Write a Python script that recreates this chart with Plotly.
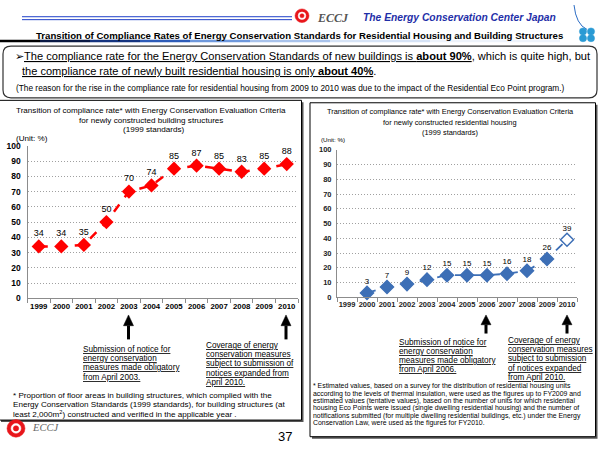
import plotly.graph_objects as go

W, H = 600, 450

# ---------------- data ----------------
years = ['1999', '2000', '2001', '2002', '2003', '2004', '2005', '2006', '2007', '2008', '2009', '2010']
building_years = years
building_rate = [34, 34, 35, 50, 70, 74, 85, 87, 85, 83, 85, 88]
housing_years = years[1:]
housing_rate = [3, 7, 9, 12, 15, 15, 15, 16, 18, 26, 39]
y_ticks = [0, 10, 20, 30, 40, 50, 60, 70, 80, 90, 100]

ARIAL = 'Arial, Liberation Sans, sans-serif'
SERIF = 'Times New Roman, Liberation Serif, serif'
RED = '#FF0000'
BLUE = '#3D6FB6'


def px(x):
    return x / W


def py(y):
    return 1 - y / H


annotations = []
shapes = []


def txt(x, y, s, size, color='black', xanchor='left', family=ARIAL, weight='normal', style='normal'):
    annotations.append(dict(x=px(x), y=py(y), xref='paper', yref='paper', text=s, showarrow=False,
                            xanchor=xanchor, yanchor='middle', borderpad=0, borderwidth=0,
                            font=dict(size=size, color=color, family=family, weight=weight, style=style)))


def rect(x0, y0, x1, y1, line='black', fill=None, width=1, layer='below'):
    shapes.append(dict(type='rect', xref='paper', yref='paper', x0=px(x0), y0=py(y1), x1=px(x1), y1=py(y0),
                       line=dict(color=line, width=width), fillcolor=fill, layer=layer))


def hline(x0, x1, y, color, width=1):
    shapes.append(dict(type='line', xref='paper', yref='paper', x0=px(x0), x1=px(x1), y0=py(y), y1=py(y),
                       line=dict(color=color, width=width), layer='above'))


def circle(cx, cy, r, fill, line=None):
    shapes.append(dict(type='circle', xref='paper', yref='paper', x0=px(cx - r), x1=px(cx + r),
                       y0=py(cy + r), y1=py(cy - r), fillcolor=fill,
                       line=dict(color=line or fill, width=0.5), layer='above'))


def path(pts, fill=None, line='black', width=1, close=True):
    d = 'M ' + ' L '.join(f'{px(a):.5f},{py(b):.5f}' for a, b in pts)
    if close:
        d += ' Z'
    shapes.append(dict(type='path', xref='paper', yref='paper', path=d, fillcolor=fill,
                       line=dict(color=line, width=width), layer='above'))


def arrow(x, ytip, ybase, yend):
    shapes.append(dict(type='line', xref='paper', yref='paper', x0=px(x), x1=px(x), y0=py(ybase), y1=py(yend),
                       line=dict(color='black', width=3), layer='above'))
    path([(x, ytip), (x - 5, ybase), (x + 5, ybase)], fill='black', line='black', width=0.5)


def logo(cx, cy, r):
    circle(cx, cy, r, '#E8161B')
    circle(cx, cy, r * 0.55, 'white')
    circle(cx, cy, r * 0.3, '#E8161B')


# ---------------- header ----------------
hline(22, 292, 12, '#1F3FC8', 1)
hline(22, 292, 15, '#1F3FC8', 1)
logo(302, 11, 7)
txt(317, 13, 'ECCJ', 12, color='#555555', family=SERIF, weight='bold', style='italic')
txt(363, 13, 'The Energy Conservation Center Japan', 10.3, color='#1F2FA8', weight='bold', style='italic')

# top-right decoration
shapes.append(dict(type='path', xref='paper', yref='paper',
                   path=f'M {px(574)},{py(0)} Q {px(576)},{py(20)} {px(587)},{py(25)}',
                   line=dict(color='#2B6CC4', width=1), layer='above'))
for cx, cy in [(583, 27), (591, 27), (583, 34), (591, 34)]:
    circle(cx, cy, 3.6, '#2A9AD4')

# title and gradient underline
txt(299, 31, 'Transition of Compliance Rates of Energy Conservation Standards for Residential Housing and Building Structures',
    9.65, xanchor='center', weight='bold')
grad = [(0, 40, '#000000'), (40, 90, '#0B1A45'), (90, 140, '#163580'), (140, 190, '#2E5CB8'),
        (190, 250, '#6E98DC'), (250, 330, '#A9C3EC'), (330, 430, '#D6E3F6'), (430, 560, '#EEF3FB')]
for a, b, c in grad:
    rect(a, 35.5, b, 38, line=c, fill=c, width=0, layer='above')

# rounded message box
r = 8
x0b, x1b, y0b, y1b = 3, 597, 42, 95
d = (f'M {px(x0b + r)},{py(y0b)} L {px(x1b - r)},{py(y0b)} Q {px(x1b)},{py(y0b)} {px(x1b)},{py(y0b + r)} '
     f'L {px(x1b)},{py(y1b - r)} Q {px(x1b)},{py(y1b)} {px(x1b - r)},{py(y1b)} '
     f'L {px(x0b + r)},{py(y1b)} Q {px(x0b)},{py(y1b)} {px(x0b)},{py(y1b - r)} '
     f'L {px(x0b)},{py(y0b + r)} Q {px(x0b)},{py(y0b)} {px(x0b + r)},{py(y0b)} Z')
shapes.append(dict(type='path', xref='paper', yref='paper', path=d, line=dict(color='#333333', width=1.2),
                   fillcolor='white', layer='below'))
U = '<span style="text-decoration:underline">'
txt(15, 52.5, '➢' + U + 'The compliance rate for the Energy Conservation Standards of new buildings is <b>about 90%</b></span>, which is quite high, but', 11.1)
txt(22, 67.5, U + 'the compliance rate of newly built residential housing is only <b>about 40%</b></span>.', 11.05)
txt(16, 85, '(The reason for the rise in the compliance rate for residential housing from 2009 to 2010 was due to the impact of the Residential Eco Point program.)', 8.3)

# ---------------- panels ----------------
rect(1, 99.5, 303.5, 426.5, line='#555555', fill='#555555', width=0)
rect(-1, 97.5, 301.5, 424.5, line='black', fill='white', width=1)
rect(312, 102, 597.5, 443.5, line='#555555', fill='#555555', width=0)
rect(310, 100, 595.5, 441.5, line='black', fill='white', width=1)

# left panel texts
txt(151, 107.5, 'Transition of compliance rate* with Energy Conservation Evaluation Criteria', 8.1, xanchor='center')
txt(151, 118.5, 'for newly constructed building structures', 8.1, xanchor='center')
txt(153, 127, '(1999 standards)', 8.1, xanchor='center')
txt(16, 137, '(Unit: %)', 8.1)

# right panel texts
txt(450, 109, 'Transition of compliance rate* with Energy Conservation Evaluation Criteria', 7.4, xanchor='center')
txt(450, 120, 'for newly constructed residential housing', 7.4, xanchor='center')
txt(450, 130.5, '(1999 standards)', 7.4, xanchor='center')
txt(321, 137.5, '(Unit: %)', 6.2)

# arrows
arrow(128.5, 317, 328, 342)
arrow(286, 317, 328, 342)
arrow(486, 317, 327, 336)
arrow(567, 317, 327, 336)


# annotation blocks
def block(x, ys, lines, size):
    for yy, s in zip(ys, lines):
        txt(x, yy, U + s + '</span>', size)


block(83, [352, 361.5, 371, 380.5],
      ['Submission of notice for', 'energy conservation', 'measures made obligatory', 'from April 2003.'], 8.2)
block(206, [348, 357.5, 367, 376.5, 386],
      ['Coverage of energy', 'conservation measures', 'subject to submission of', 'notices expanded from', 'April 2010.'], 8.2)
block(399, [345, 354, 363.5, 373],
      ['Submission of notice for', 'energy conservation', 'measures made obligatory', 'from April 2006.'], 8.2)
block(508, [343, 352.5, 362, 371.5, 381],
      ['Coverage of energy', 'conservation measures', 'subject to submission', 'of notices expanded', 'from April 2010.'], 8.2)

for yy, s in zip([399.5, 409, 418.5],
                 ['* Proportion of floor areas in building structures, which complied with the',
                  'Energy Conservation Standards (1999 standards), for building structures (at',
                  'least 2,000m<sup>2</sup>) constructed and verified in the applicable year .']):
    txt(13, yy, s, 8.1)

for yy, s in zip([390, 397.5, 405, 412.5, 420, 427.5],
                 ['* Estimated values, based on a survey for the distribution of residential housing units',
                  'according to the levels of thermal insulation, were used as the figures up to FY2009 and',
                  'estimated values (tentative values), based on the number of units for which residential',
                  'housing Eco Points were issued (single dwelling residential housing) and the number of',
                  'notifications submitted (for multiple dwelling residential buildings, etc.) under the Energy',
                  'Conservation Law, were used as the figures for FY2010.']):
    txt(313, yy, s, 6.9)

# footer
logo(16, 433, 9)
txt(32, 432, 'ECCJ', 10.5, color='#666666', family=SERIF, style='italic')
txt(285, 441, '37', 13, xanchor='center')

# ---------------- traces ----------------
fig = go.Figure()
fig.add_trace(go.Scatter(
    x=building_years, y=building_rate, mode='lines+markers+text',
    text=[str(v) for v in building_rate], textposition='top center',
    textfont=dict(size=9, family=ARIAL, color='black'),
    line=dict(color=RED, width=2.5, dash='dash'),
    marker=dict(symbol='diamond', size=11, color=RED),
    xaxis='x', yaxis='y', cliponaxis=False, showlegend=False, hoverinfo='skip'))

fig.add_trace(go.Scatter(
    x=housing_years, y=housing_rate, mode='lines+markers+text',
    text=[str(v) for v in housing_rate], textposition='top center',
    textfont=dict(size=8, family=ARIAL, color='black'),
    line=dict(color=BLUE, width=1.8, dash='dash'),
    marker=dict(symbol='diamond', size=10, color=[BLUE] * (len(housing_rate) - 1) + ['white'],
                line=dict(color=BLUE, width=1.5)),
    xaxis='x2', yaxis='y2', cliponaxis=False, showlegend=False, hoverinfo='skip'))

common_x = dict(type='category', categoryorder='array', categoryarray=years, range=[-0.5, 11.5],
                showline=True, linecolor='#8C8C8C', linewidth=1, ticks='outside', tickson='boundaries',
                ticklen=4, tickcolor='#8C8C8C', showgrid=False, zeroline=False, fixedrange=True,
                tickangle=0)
common_y = dict(range=[0, 100], tickvals=y_ticks, showgrid=True, gridcolor='#A0A0A0', griddash='1px,2px',
                gridwidth=1, showline=True, linecolor='#8C8C8C', linewidth=1, zeroline=False, ticks='',
                fixedrange=True)

fig.update_layout(
    width=W, height=H, margin=dict(l=0, r=0, t=0, b=0),
    paper_bgcolor='white', plot_bgcolor='rgba(0,0,0,0)',
    xaxis=dict(common_x, domain=[px(27.5), px(298)], anchor='y',
               tickfont=dict(size=7.8, family=ARIAL, color='black', weight='bold')),
    yaxis=dict(common_y, domain=[py(300), py(144)], anchor='x', ticklabelstandoff=4,
               tickfont=dict(size=8.5, family=ARIAL, color='black', weight='bold')),
    xaxis2=dict(common_x, domain=[px(337), px(577)], anchor='y2',
                tickfont=dict(size=7.5, family=ARIAL, color='#222222', weight='bold')),
    yaxis2=dict(common_y, domain=[py(299), py(148)], anchor='x2', ticklabelstandoff=3,
                tickfont=dict(size=7.5, family=ARIAL, color='#222222', weight='bold')),
    annotations=annotations, shapes=shapes,
)

fig.write_html('out.html', config={'displayModeBar': False},
               post_script="document.body.style.margin='0';")
